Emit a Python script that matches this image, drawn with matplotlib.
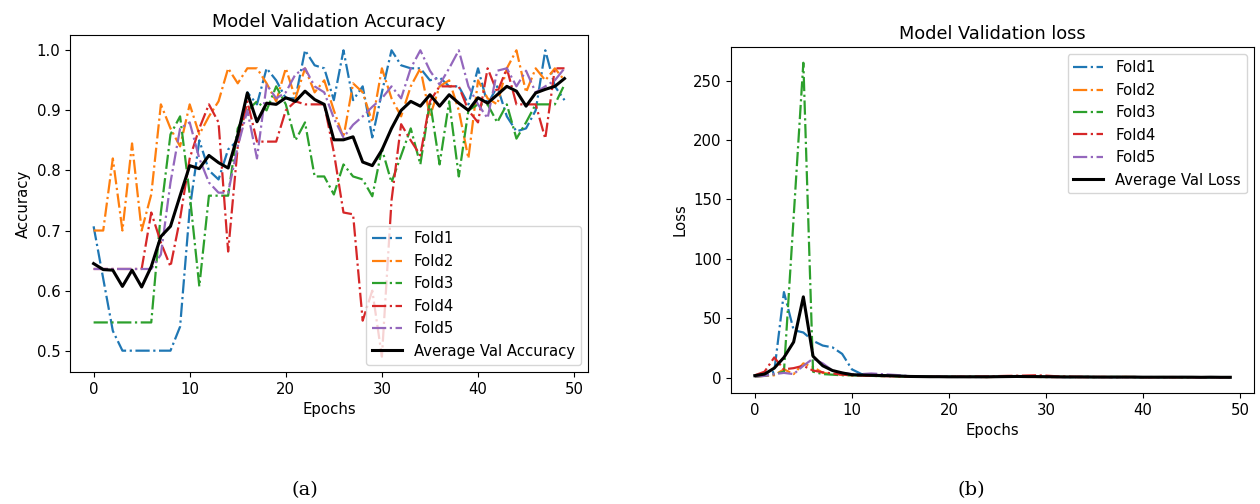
import numpy as np
import matplotlib
matplotlib.use('Agg')
import matplotlib.pyplot as plt

# Validation accuracy / loss per fold over 50 epochs

epochs = list(range(50))
fold_names = ['Fold1', 'Fold2', 'Fold3', 'Fold4', 'Fold5']

fold1_acc = [0.707, 0.62, 0.533, 0.50, 0.50, 0.50, 0.50, 0.50, 0.50, 0.54,
             0.735, 0.85, 0.80, 0.785, 0.835, 0.85, 0.93, 0.91, 0.97, 0.95,
             0.92, 0.92, 1.00, 0.975, 0.97, 0.917, 1.00, 0.917, 0.94, 0.855,
             0.93, 1.00, 0.975, 0.97, 0.97, 0.95, 0.955, 0.94, 0.94, 0.91,
             0.97, 0.91, 0.94, 0.89, 0.865, 0.87, 0.90, 1.00, 0.94, 0.917]
fold2_acc = [0.70, 0.70, 0.82, 0.70, 0.845, 0.70, 0.76, 0.91, 0.87, 0.84,
             0.91, 0.86, 0.89, 0.915, 0.97, 0.945, 0.97, 0.97, 0.945, 0.915,
             0.97, 0.92, 0.97, 0.93, 0.95, 0.90, 0.855, 0.945, 0.93, 0.88,
             0.97, 0.92, 0.89, 0.94, 0.97, 0.89, 0.94, 0.95, 0.90, 0.82,
             0.95, 0.92, 0.91, 0.97, 1.00, 0.93, 0.97, 0.95, 0.97, 0.95]
fold3_acc = [0.547, 0.547, 0.547, 0.547, 0.547, 0.547, 0.547, 0.73, 0.86, 0.89,
             0.76, 0.607, 0.758, 0.758, 0.758, 0.87, 0.90, 0.915, 0.90, 0.94,
             0.91, 0.85, 0.88, 0.79, 0.79, 0.76, 0.81, 0.79, 0.785, 0.757,
             0.836, 0.78, 0.825, 0.87, 0.81, 0.915, 0.81, 0.915, 0.79, 0.90,
             0.91, 0.91, 0.88, 0.91, 0.853, 0.88, 0.91, 0.91, 0.91, 0.943]
fold4_acc = [0.636, 0.636, 0.636, 0.636, 0.636, 0.636, 0.73, 0.68, 0.64, 0.72,
             0.82, 0.87, 0.91, 0.88, 0.665, 0.84, 0.915, 0.848, 0.848, 0.848,
             0.90, 0.915, 0.91, 0.91, 0.91, 0.83, 0.73, 0.727, 0.55, 0.60,
             0.49, 0.75, 0.877, 0.85, 0.825, 0.915, 0.94, 0.94, 0.94, 0.90,
             0.88, 0.97, 0.93, 0.97, 0.91, 0.91, 0.91, 0.853, 0.97, 0.97]
fold5_acc = [0.636, 0.636, 0.636, 0.636, 0.636, 0.636, 0.636, 0.66, 0.78, 0.87,
             0.88, 0.82, 0.78, 0.763, 0.763, 0.84, 0.90, 0.82, 0.943, 0.92,
             0.93, 0.96, 0.97, 0.94, 0.93, 0.887, 0.855, 0.876, 0.89, 0.906,
             0.92, 0.94, 0.92, 0.97, 1.00, 0.966, 0.943, 0.97, 1.00, 0.94,
             0.91, 0.887, 0.966, 0.97, 0.94, 0.966, 0.93, 0.94, 0.95, 0.97]
avg_acc = [0.645, 0.635, 0.634, 0.607, 0.634, 0.606, 0.64, 0.69, 0.707, 0.758,
           0.808, 0.803, 0.825, 0.813, 0.804, 0.859, 0.929, 0.881, 0.912, 0.91,
           0.921, 0.915, 0.932, 0.918, 0.91, 0.851, 0.851, 0.856, 0.814, 0.808,
           0.834, 0.87, 0.90, 0.915, 0.907, 0.926, 0.907, 0.926, 0.912, 0.90,
           0.921, 0.912, 0.926, 0.94, 0.932, 0.907, 0.929, 0.935, 0.94, 0.953]

fold1_loss = [1.0, 2.0, 5.0, 72.0, 40.0, 38.0, 31.0, 27.0, 25.5, 20.0,
              7.0, 3.0, 2.5, 2.0, 2.0, 1.5, 1.2, 1.0, 0.9, 0.8,
              0.7, 0.6, 0.7, 0.6, 0.5, 0.8, 0.9, 1.0, 0.8, 0.7,
              0.6, 0.6, 0.5, 0.5, 0.6, 0.5, 0.5, 0.4, 0.5, 0.4,
              0.4, 0.5, 0.4, 0.4, 0.5, 0.4, 0.4, 0.3, 0.4, 0.4]
fold2_loss = [1.0, 1.5, 2.0, 7.0, 3.0, 12.0, 9.0, 4.0, 3.0, 2.5,
              2.0, 2.0, 1.5, 1.5, 1.5, 1.0, 0.9, 0.8, 0.8, 0.7,
              0.6, 0.7, 0.6, 0.6, 0.5, 0.7, 0.8, 0.7, 0.6, 0.6,
              0.5, 0.5, 0.6, 0.5, 0.4, 0.5, 0.5, 0.4, 0.6, 0.5,
              0.4, 0.4, 0.5, 0.3, 0.3, 0.4, 0.3, 0.4, 0.3, 0.3]
fold3_loss = [1.0, 1.5, 3.0, 5.0, 135.0, 265.0, 5.0, 3.0, 2.5, 2.0,
              2.0, 1.8, 1.5, 1.3, 1.2, 1.0, 0.9, 0.9, 0.8, 0.8,
              0.7, 0.8, 0.7, 0.7, 0.6, 0.7, 0.8, 0.7, 0.7, 0.6,
              0.6, 0.7, 0.6, 0.5, 0.6, 0.5, 0.5, 0.6, 0.5, 0.5,
              0.4, 0.4, 0.5, 0.4, 0.4, 0.4, 0.4, 0.4, 0.3, 0.3]
fold4_loss = [2.0, 5.0, 17.0, 7.0, 8.0, 10.0, 6.0, 4.5, 3.5, 2.5,
              2.0, 1.8, 1.5, 1.3, 1.2, 1.0, 0.9, 0.8, 0.8, 0.7,
              0.7, 0.8, 0.9, 1.0, 1.1, 1.3, 1.5, 1.6, 1.8, 2.0,
              1.7, 1.2, 0.9, 0.8, 0.7, 0.6, 0.6, 0.5, 0.5, 0.5,
              0.4, 0.4, 0.4, 0.5, 0.4, 0.4, 0.3, 0.4, 0.3, 0.3]
fold5_loss = [1.0, 1.5, 3.0, 4.0, 3.0, 10.0, 16.0, 12.0, 6.0, 4.0,
              3.0, 3.0, 3.5, 3.0, 2.5, 2.0, 1.2, 1.0, 0.9, 0.8,
              0.7, 0.7, 0.6, 0.6, 0.6, 0.7, 0.7, 0.8, 0.7, 0.6,
              0.6, 0.5, 0.5, 0.5, 0.4, 0.5, 0.4, 0.4, 0.4, 0.5,
              0.4, 0.4, 0.3, 0.4, 0.4, 0.3, 0.3, 0.3, 0.3, 0.3]
avg_loss = [1.7, 3.0, 8.0, 17.0, 30.0, 68.0, 18.0, 10.0, 6.0, 4.0,
            2.5, 2.2, 2.0, 1.8, 1.6, 1.3, 1.0, 0.9, 0.8, 0.8,
            0.7, 0.7, 0.7, 0.7, 0.7, 0.8, 0.9, 1.0, 0.9, 0.9,
            0.8, 0.7, 0.6, 0.6, 0.6, 0.5, 0.5, 0.5, 0.5, 0.5,
            0.4, 0.4, 0.4, 0.4, 0.4, 0.4, 0.3, 0.4, 0.3, 0.3]

FS = 10.7
plt.rcParams['font.size'] = FS


def plot_folds(ax, folds, avg, avg_label, title, ylabel, legend_loc):
    for vals, name in zip(folds, fold_names):
        ax.plot(epochs, vals, linestyle='-.', linewidth=1.6, label=name)
    ax.plot(epochs, avg, color='black', linewidth=2.2, label=avg_label)
    ax.set_title(title, fontsize=12.8)
    ax.set_xlabel('Epochs', fontsize=FS)
    ax.set_ylabel(ylabel, fontsize=FS)
    ax.tick_params(labelsize=FS)
    ax.legend(loc=legend_loc, fontsize=FS)


fig = plt.figure(figsize=(12.6, 5.04), dpi=100)
ax1 = fig.add_axes([0.0556, 0.2619, 0.4111, 0.6687])
ax2 = fig.add_axes([0.5802, 0.2202, 0.4151, 0.6865])

plot_folds(ax1, [fold1_acc, fold2_acc, fold3_acc, fold4_acc, fold5_acc],
           avg_acc, 'Average Val Accuracy', 'Model Validation Accuracy',
           'Accuracy', 'lower right')
ax1.set_xticks([0, 10, 20, 30, 40, 50])

plot_folds(ax2, [fold1_loss, fold2_loss, fold3_loss, fold4_loss, fold5_loss],
           avg_loss, 'Average Val Loss', 'Model Validation loss',
           'Loss', 'upper right')
ax2.set_xticks([0, 10, 20, 30, 40, 50])

fig.text(0.242, 0.028, '(a)', family='DejaVu Serif', fontsize=14, ha='center', va='center')
fig.text(0.771, 0.028, '(b)', family='DejaVu Serif', fontsize=14, ha='center', va='center')

plt.savefig('out.png', dpi=100)
plt.close()
